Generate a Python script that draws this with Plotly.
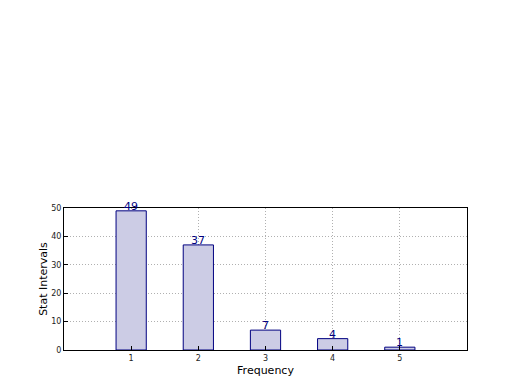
import plotly.graph_objects as go

categories = [1, 2, 3, 4, 5]
values = [49, 37, 7, 4, 1]
x_ticks = [1, 2, 3, 4, 5]
y_ticks = [0, 10, 20, 30, 40, 50]

fig = go.Figure()
fig.add_trace(go.Bar(
    x=categories, y=values, width=0.45,
    marker=dict(color="#cccce5", line=dict(color="#000080", width=1)),
    showlegend=False, hoverinfo="skip",
))
for c, v in zip(categories, values):
    fig.add_annotation(x=c, y=v, text=str(v), showarrow=False, yanchor="bottom",
                       yshift=-4, font=dict(family="DejaVu Sans", size=11, color="#000080"))

axis_common = dict(showline=True, linecolor="black", linewidth=1, mirror=True,
                   showgrid=True, gridcolor="#b0b0b0", griddash="1px,2px", gridwidth=1,
                   ticks="inside", ticklen=4, tickcolor="black", zeroline=False,
                   layer="above traces",
                   tickfont=dict(family="DejaVu Sans", size=8, color="#222222"))

fig.update_layout(
    width=520, height=390,
    margin=dict(l=56, r=61, t=200, b=48),
    paper_bgcolor="white", plot_bgcolor="white",
    xaxis=dict(range=[0, 6], tickvals=x_ticks, ticktext=[str(t) for t in x_ticks],
               title=dict(text="Frequency", font=dict(family="DejaVu Sans", size=11, color="black"), standoff=4),
               **axis_common),
    yaxis=dict(range=[0, 50], tickvals=y_ticks,
               title=dict(text="Stat Intervals", font=dict(family="DejaVu Sans", size=11, color="black"), standoff=1),
               **axis_common),
)
fig.write_html("out.html")
